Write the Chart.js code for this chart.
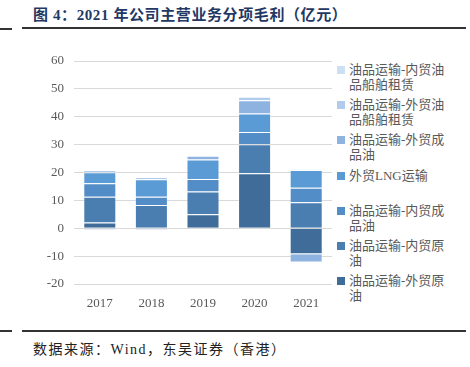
<!DOCTYPE html>
<html>
<head>
<meta charset="utf-8">
<script src="https://cdn.jsdelivr.net/npm/chart.js@4.4.0/dist/chart.umd.min.js"></script>
<style>
  body { margin: 0; background: #fff; width: 470px; height: 367px; position: relative; overflow: hidden; }
  #title { position: absolute; left: 33px; top: 3px; font: bold 15px "Liberation Serif", "Noto Sans CJK SC"; letter-spacing: 0.6px; color: #1f3864; white-space: nowrap; }
  .rule { position: absolute; height: 2px; background: #333; }
  #src { position: absolute; left: 33px; top: 338px; font: 14px "Liberation Serif", "Noto Sans CJK SC"; letter-spacing: 1.5px; color: #222; white-space: nowrap; }
  #box { position: absolute; left: 0; top: 40px; width: 332px; height: 270px; }
  #legend { position: absolute; left: 337px; top: 62px; }
  .item { position: relative; height: 35.2px; }
  .sw { position: absolute; left: 0; top: 4px; width: 8px; height: 8px; }
  .lt { position: absolute; left: 12px; top: 0; width: 98px; word-break: break-all; font: 13px "Liberation Serif", "Noto Sans CJK SC"; line-height: 15px; color: #595959; }
</style>
</head>
<body>
<div id="title">图 4：2021 年公司主营业务分项毛利（亿元）</div>
<div class="rule" style="left:0;width:12px;top:28px"></div>
<div class="rule" style="left:22px;width:444px;top:27px"></div>
<div id="box"><canvas id="myChart"></canvas></div>
<div id="legend"></div>
<div class="rule" style="left:0;width:12px;top:330px"></div>
<div class="rule" style="left:22px;width:444px;top:330px"></div>
<div id="src">数据来源：Wind，东吴证券（香港）</div>
<script>
var years = ['2017', '2018', '2019', '2020', '2021'];

// bottom of the stack first
var seriesNames = ['油品运输-外贸原油', '油品运输-内贸原油', '油品运输-内贸成品油', '外贸LNG运输',
                   '油品运输-外贸成品油', '油品运输-外贸油品船舶租赁', '油品运输-内贸油品船舶租赁'];
var waiMaoYuanYou = [2.1, 0, 5.0, 19.7, -9.3];
var neiMaoYuanYou = [9.2, 8.3, 8.2, 10.4, 9.3];
var neiMaoChengPin = [4.8, 3.0, 4.5, 4.4, 5.2];
var lng = [4.0, 6.3, 7.0, 6.7, 6.4];
var waiMaoChengPin = [-0.6, -0.6, 1.3, 4.7, -3.0];
var waiMaoZuLin = [0.8, 0.8, 0, 1.3, 0.2];
var neiMaoZuLin = [0, 0, 0, 0, 0];
var yTicks = [-20, -10, 0, 10, 20, 30, 40, 50, 60];

var colors = ['#3f6c98', '#4a7db0', '#538dc7', '#5b9bd5', '#8eb3e0', '#b0cbeb', '#cddff2'];
var values = [waiMaoYuanYou, neiMaoYuanYou, neiMaoChengPin, lng, waiMaoChengPin, waiMaoZuLin, neiMaoZuLin];

var datasets = seriesNames.map(function (n, i) {
    return {
        label: n,
        data: values[i],
        backgroundColor: colors[i],
        borderColor: 'rgba(255,255,255,0.35)',
        borderWidth: 1,
        barPercentage: 0.8,
        categoryPercentage: 0.8
    };
});

// html legend, top of stack first
var legend = document.getElementById('legend');
for (var i = seriesNames.length - 1; i >= 0; i--) {
    var it = document.createElement('div');
    it.className = 'item';
    it.innerHTML = '<div class="sw" style="background:' + colors[i] + '"></div><div class="lt">' + seriesNames[i] + '</div>';
    legend.appendChild(it);
}

var tickFont = { family: '"Liberation Serif", "Noto Sans CJK SC"', size: 13 };

var ctx = document.getElementById('myChart').getContext('2d');
var chart = new Chart(ctx, {
    type: 'bar',
    data: { labels: years, datasets: datasets },
    options: {
        responsive: true,
        maintainAspectRatio: false,
        animation: false,
        layout: { padding: { top: 21, right: 0, left: 0, bottom: 0 } },
        plugins: { legend: { display: false }, tooltip: { enabled: false } },
        scales: {
            x: {
                stacked: true,
                grid: { display: false },
                border: { display: false },
                ticks: { color: '#595959', font: tickFont, padding: 4 },
                afterFit: function (s) { s.height = 26; }
            },
            y: {
                stacked: true,
                min: -20,
                max: 60,
                afterBuildTicks: function (s) { s.ticks = yTicks.map(function (v) { return { value: v }; }); },
                grid: { color: '#d9d9d9', lineWidth: 1, drawTicks: false },
                border: { display: false },
                ticks: { color: '#595959', font: tickFont, padding: 10 },
                afterFit: function (s) { s.width = 74; }
            }
        }
    }
});
</script>
</body>
</html>
